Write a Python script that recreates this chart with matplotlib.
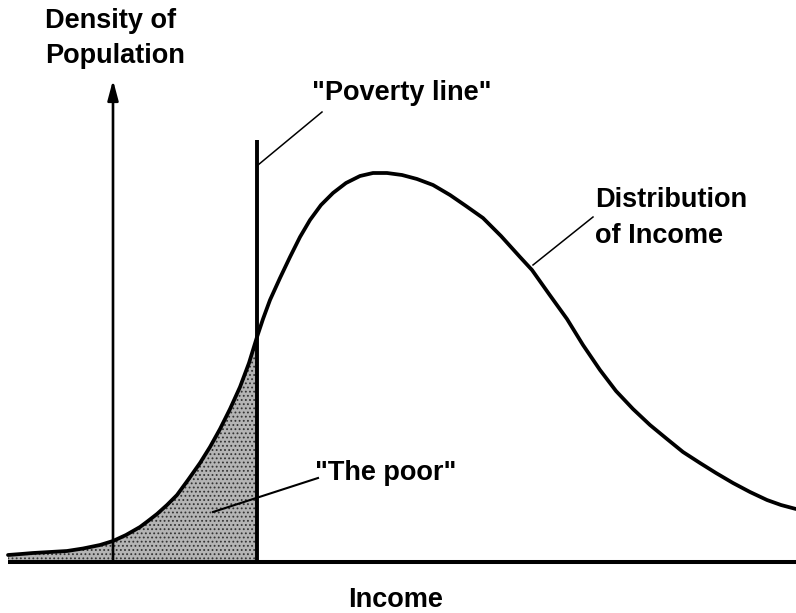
import matplotlib.pyplot as plt
import numpy as np

# income (arbitrary units, y axis at 0) and population density
income = [-105, -92, -80, -63, -46, -30, -13, 0, 13, 27, 35, 44, 54, 64, 75,
          87, 97, 107, 117, 127, 136, 144, 150, 157, 167, 177, 187, 197, 208,
          220, 233, 247, 260, 274, 289, 304, 320, 337, 353, 370, 388, 407, 419,
          436, 454, 470, 487, 503, 520, 537, 554, 570, 587, 603, 620, 637, 654,
          668, 683]
density = [7, 8, 9, 10, 11, 13.5, 17, 21, 27, 35, 41, 48, 57, 67, 82,
           99, 115, 133, 153, 175, 199, 225, 243, 262, 284, 305, 325, 342, 357,
           369, 379, 386, 389, 389, 387, 383, 377, 367, 356, 344, 326, 305, 292,
           268, 243, 217, 192, 171, 153, 137, 123, 110, 99, 89, 79, 70, 62,
           57, 53]
poverty_line = 144
poverty_top = 422
axis_top = 482

income = np.array(income)
density = np.array(density)

fnt = dict(family="Liberation Sans", weight="bold", size=19.5)

fig = plt.figure(figsize=(7.96, 6.13), dpi=100)
ax = fig.add_axes([0, 0, 1, 1])
ax.set_xlim(-113, 683)
ax.set_ylim(-51, 562)
ax.axis("off")

# shaded "poor" area
poor = income <= poverty_line
plt.rcParams["hatch.linewidth"] = 0.8
ax.fill_between(income[poor], 0, density[poor], facecolor="#b4b4b4",
                edgecolor="#333333", hatch="....", linewidth=0)

# baseline and density axis
ax.plot([income[0], income[-1]], [0, 0], color="k", lw=2.9, solid_capstyle="butt")
ax.annotate("", xy=(0, axis_top), xytext=(0, 0),
            arrowprops=dict(arrowstyle="-|>,head_length=0.6,head_width=0.16",
                            mutation_scale=20, color="k", lw=1.9,
                            shrinkA=0, shrinkB=0))

# poverty line
ax.plot([poverty_line, poverty_line], [0, poverty_top], color="k", lw=2.8,
        solid_capstyle="butt")

# income distribution
ax.plot(income, density, color="k", lw=2.7, solid_capstyle="round",
        solid_joinstyle="round")

# labels
ax.text(-68, 534, "Density of", ha="left", va="baseline", **fnt)
ax.text(-68, 499, "Population", ha="left", va="baseline", **fnt)
ax.text(199, 462, "\"Poverty line\"", ha="left", va="baseline", **fnt)
ax.text(202, 82, "\"The poor\"", ha="left", va="baseline", **fnt)
ax.text(482, 355, "Distribution", ha="left", va="baseline", **fnt)
ax.text(482, 319, "of Income", ha="left", va="baseline", **fnt)
ax.text(283, -45, "Income", ha="center", va="baseline", **fnt)

# leader lines
ax.plot([145, 209], [397, 450], color="k", lw=1.1)
ax.plot([100, 205], [50, 84], color="k", lw=1.5)
ax.plot([420, 480], [297, 345], color="k", lw=1.1)

fig.savefig("out.png", dpi=100)
